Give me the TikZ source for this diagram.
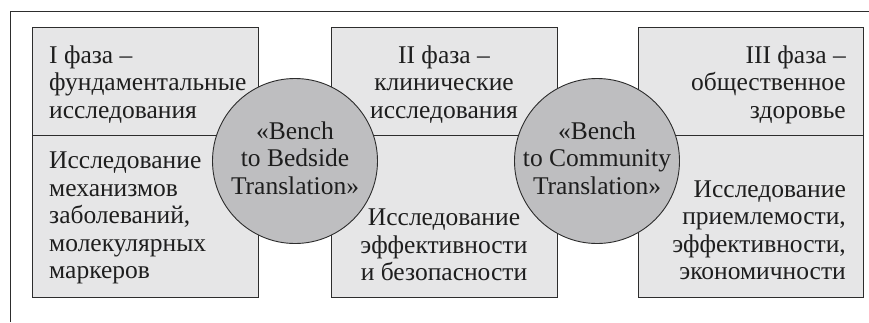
\documentclass[tikz,border=0pt]{standalone}
\usepackage{fontspec}
\setmainfont{Liberation Serif}
\definecolor{boxfill}{RGB}{230,230,231}
\definecolor{discfill}{RGB}{190,190,192}
\definecolor{inkline}{RGB}{45,45,45}
\definecolor{inktext}{RGB}{30,30,30}
\tikzset{
  boxpart/.style={draw=inkline, line width=1.1pt, fill=boxfill, rectangle,
    inner sep=0pt, anchor=north west},
  disc/.style={draw=inkline, line width=0.9pt, fill=discfill, circle,
    inner sep=0pt, minimum size=165pt},
  label/.style={inner sep=0pt, text=inktext,
    font=\fontsize{25.5}{27.5}\selectfont},
  frameline/.style={draw=inkline, line width=1pt}
}
\begin{document}
\begin{tikzpicture}[x=1pt, y=-1pt]
\useasboundingbox (0,0) rectangle (869,322);

% open frame: top and left edges
\coordinate (fl) at (10,322);
\coordinate (fc) at (10,11);
\coordinate (fr) at (869,11);
\draw[frameline] (fl) -- (fc) -- (fr);

% phase boxes, each split in an upper and a lower part
\node[boxpart, minimum width=226pt, minimum height=108pt] (b1t) at (32,27) {};
\node[boxpart, minimum width=226pt, minimum height=162pt] (b1b) at (32,135) {};
\node[boxpart, minimum width=226pt, minimum height=108pt] (b2t) at (331,27) {};
\node[boxpart, minimum width=226pt, minimum height=162pt] (b2b) at (331,135) {};
\node[boxpart, minimum width=225pt, minimum height=108pt] (b3t) at (638,27) {};
\node[boxpart, minimum width=225pt, minimum height=162pt] (b3b) at (638,135) {};

% phase titles
\node[label, align=left, anchor=north west] (t1) at (49,43.75)
  {\strut I фаза --\\фундаментальные\\исследования};
\node[label, align=center, anchor=north] (t2) at (444,43.75)
  {\strut II фаза --\\клинические\\исследования};
\node[label, align=right, anchor=north east] (t3) at (846,43.75)
  {\strut III фаза --\\общественное\\здоровье};

% research topics
\node[label, align=left, anchor=south west] (r1) at (49,287.25)
  {Исследование\\механизмов\\заболеваний,\\молекулярных\\маркеров\strut};
\node[label, align=center, anchor=south] (r2) at (444,289.25)
  {Исследование\\эффективности\\и безопасности\strut};
\node[label, align=right, anchor=south east] (r3) at (846,288.25)
  {Исследование\\приемлемости,\\эффективности,\\экономичности\strut};

% translation stages
\node[disc] (c1) at (295,161) {};
\node[disc] (c2) at (597,161) {};
\node[label, align=center] (c1t) at ([yshift=3pt]c1.center)
  {«Bench\\to Bedside\\Translation»};
\node[label, align=center] (c2t) at ([yshift=3pt]c2.center)
  {«Bench\\to Community\\Translation»};
\end{tikzpicture}
\end{document}
